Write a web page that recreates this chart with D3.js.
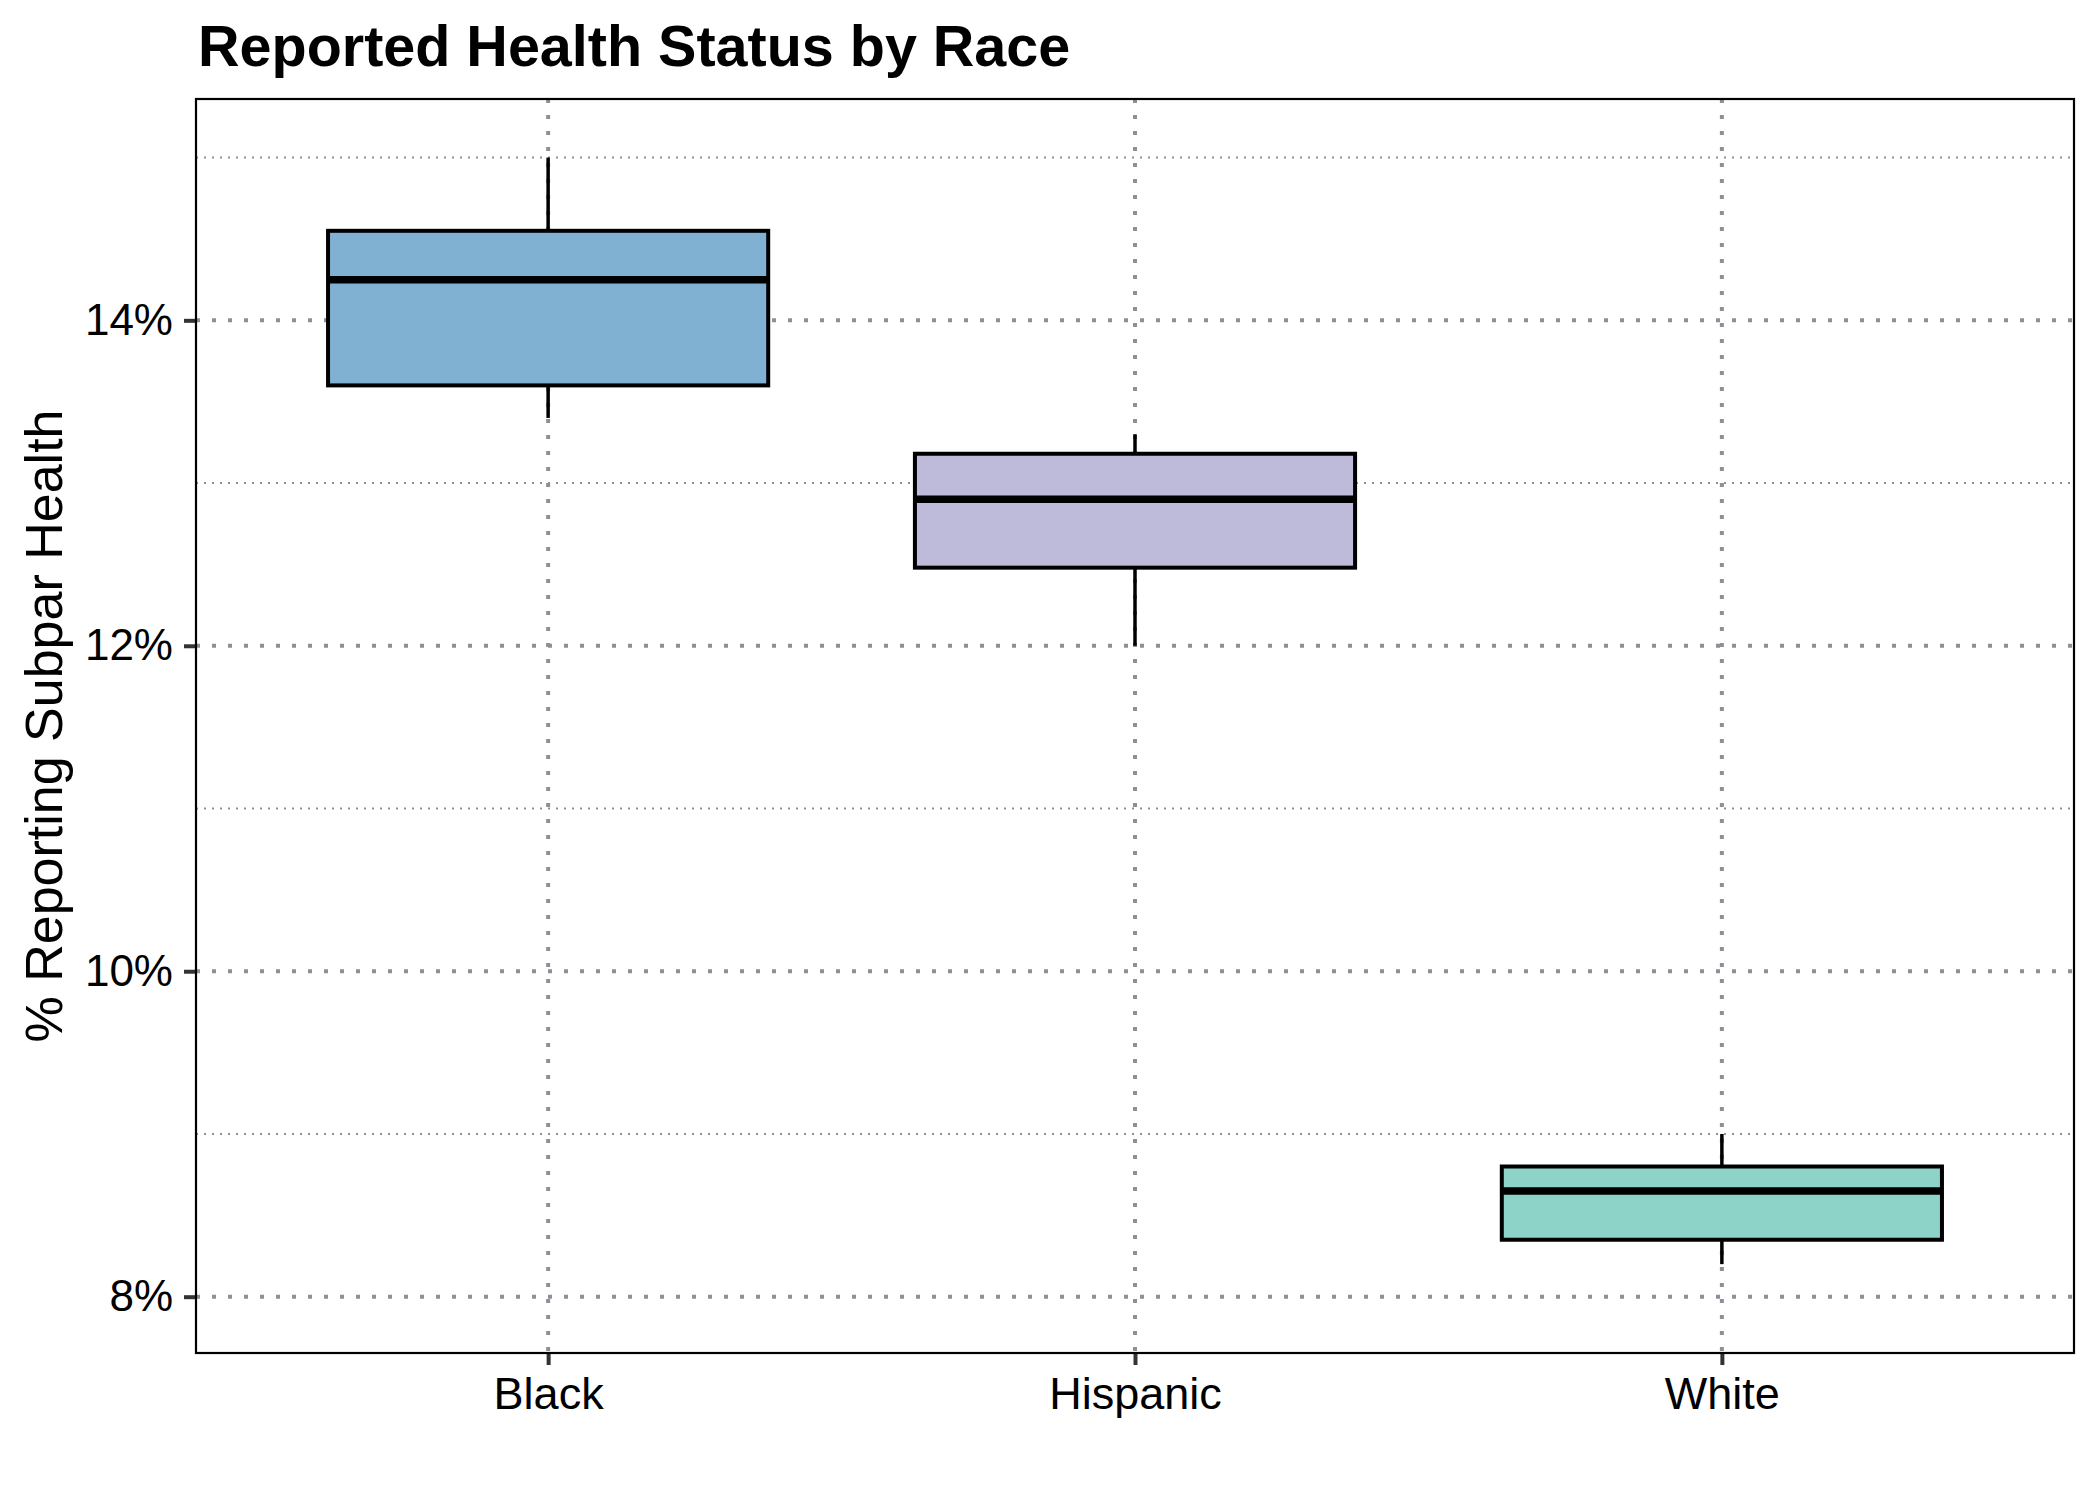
<!DOCTYPE html>
<html>
<head>
<meta charset="utf-8">
<script src="https://cdn.jsdelivr.net/npm/d3@7"></script>
<style>
    body { margin: 0; background: #fff; }
    text { font-family: "Liberation Sans", Arial, sans-serif; }
</style>
</head>
<body>
<div id="wrapper"></div>
<script>
// box plot summary per race (% reporting subpar health)
const races = ["Black", "Hispanic", "White"];
const whiskerLow = [13.40, 12.00, 8.20];
const q1 = [13.60, 12.48, 8.35];
const median = [14.25, 12.90, 8.65];
const q3 = [14.55, 13.18, 8.80];
const whiskerHigh = [15.00, 13.30, 9.00];
const majorTicks = [8, 10, 12, 14];
const minorTicks = [9, 11, 13, 15];

function buildPlot() {
    const data = races.map((r, i) => ({
        race: r,
        low: whiskerLow[i],
        q1: q1[i],
        median: median[i],
        q3: q3[i],
        high: whiskerHigh[i]
    }));

    var dimension = {
        width: 2100,
        height: 1500,
        margin: {
            top: 99,
            left: 196,
            bottom: 147,
            right: 26
        }
    };
    dimension.boundedWidth = dimension.width - dimension.margin.left - dimension.margin.right;
    dimension.boundedHeight = dimension.height - dimension.margin.top - dimension.margin.bottom;

    const svg = d3.select("#wrapper").append("svg")
        .attr("width", dimension.width)
        .attr("height", dimension.height);

    svg.append("text")
        .attr("x", 198)
        .attr("y", 66)
        .style("font-size", "57.5px")
        .style("font-weight", "bold")
        .text("Reported Health Status by Race");

    svg.append("text")
        .attr("transform", "rotate(-90)")
        .attr("x", -(dimension.margin.top + dimension.boundedHeight / 2))
        .attr("y", 62)
        .attr("text-anchor", "middle")
        .style("font-size", "52px")
        .text("% Reporting Subpar Health");

    const bounded = svg.append("g")
        .attr("transform", `translate(${dimension.margin.left},${dimension.margin.top})`);

    const xScaler = d3.scalePoint()
        .domain(races)
        .range([0, dimension.boundedWidth])
        .padding(0.6);
    const boxWidth = xScaler.step() * 0.75;

    const yScaler = d3.scaleLinear()
        .domain([7.654, 15.36])
        .range([dimension.boundedHeight, 0]);

    const fillScaler = d3.scaleOrdinal()
        .domain(races)
        .range(["#80b1d3", "#bebada", "#8dd3c7"]);

    const gridColor = "#8c9098";

    // minor grid
    bounded.append("g").selectAll("line")
        .data(minorTicks)
        .join("line")
        .attr("x1", 0)
        .attr("x2", dimension.boundedWidth)
        .attr("y1", d => yScaler(d))
        .attr("y2", d => yScaler(d))
        .attr("stroke", gridColor)
        .attr("stroke-width", 2)
        .attr("stroke-dasharray", "2,6");

    // major grid
    bounded.append("g").selectAll("line")
        .data(majorTicks)
        .join("line")
        .attr("x1", 0)
        .attr("x2", dimension.boundedWidth)
        .attr("y1", d => yScaler(d))
        .attr("y2", d => yScaler(d))
        .attr("stroke", gridColor)
        .attr("stroke-width", 4)
        .attr("stroke-dasharray", "4,12");

    bounded.append("g").selectAll("line")
        .data(races)
        .join("line")
        .attr("x1", d => xScaler(d))
        .attr("x2", d => xScaler(d))
        .attr("y1", 0)
        .attr("y2", dimension.boundedHeight)
        .attr("stroke", gridColor)
        .attr("stroke-width", 4)
        .attr("stroke-dasharray", "4,12");

    const boxes = bounded.append("g").selectAll("g")
        .data(data)
        .join("g");

    boxes.append("line")
        .attr("x1", d => xScaler(d.race))
        .attr("x2", d => xScaler(d.race))
        .attr("y1", d => yScaler(d.high))
        .attr("y2", d => yScaler(d.q3))
        .attr("stroke", "black")
        .attr("stroke-width", 3.5);

    boxes.append("line")
        .attr("x1", d => xScaler(d.race))
        .attr("x2", d => xScaler(d.race))
        .attr("y1", d => yScaler(d.q1))
        .attr("y2", d => yScaler(d.low))
        .attr("stroke", "black")
        .attr("stroke-width", 3.5);

    boxes.append("rect")
        .attr("x", d => xScaler(d.race) - boxWidth / 2)
        .attr("width", boxWidth)
        .attr("y", d => yScaler(d.q3))
        .attr("height", d => yScaler(d.q1) - yScaler(d.q3))
        .attr("fill", d => fillScaler(d.race))
        .attr("stroke", "black")
        .attr("stroke-width", 4);

    boxes.append("line")
        .attr("x1", d => xScaler(d.race) - boxWidth / 2)
        .attr("x2", d => xScaler(d.race) + boxWidth / 2)
        .attr("y1", d => yScaler(d.median))
        .attr("y2", d => yScaler(d.median))
        .attr("stroke", "black")
        .attr("stroke-width", 7.5);

    // axes
    var y_axis = d3.axisLeft(yScaler)
        .tickValues(majorTicks)
        .tickSize(12)
        .tickPadding(11)
        .tickFormat(d => d + "%");
    var x_axis = d3.axisBottom(xScaler)
        .tickSize(12)
        .tickPadding(12);

    const yg = bounded.append("g").call(y_axis);
    const xg = bounded.append("g")
        .attr("transform", `translate(0,${dimension.boundedHeight})`)
        .call(x_axis);

    [yg, xg].forEach(g => {
        g.select(".domain").remove();
        g.selectAll(".tick line").attr("stroke", "#333").attr("stroke-width", 4);
        g.selectAll(".tick text")
            .attr("fill", "black")
            .style("font-size", "44px")
            .style("font-family", "'Liberation Sans', Arial, sans-serif");
    });
    xg.selectAll(".tick text").style("font-size", "45px").attr("dy", "0.72em");

    bounded.append("rect")
        .attr("width", dimension.boundedWidth)
        .attr("height", dimension.boundedHeight)
        .attr("fill", "none")
        .attr("stroke", "black")
        .attr("stroke-width", 2.2);
}

buildPlot();
</script>
</body>
</html>
